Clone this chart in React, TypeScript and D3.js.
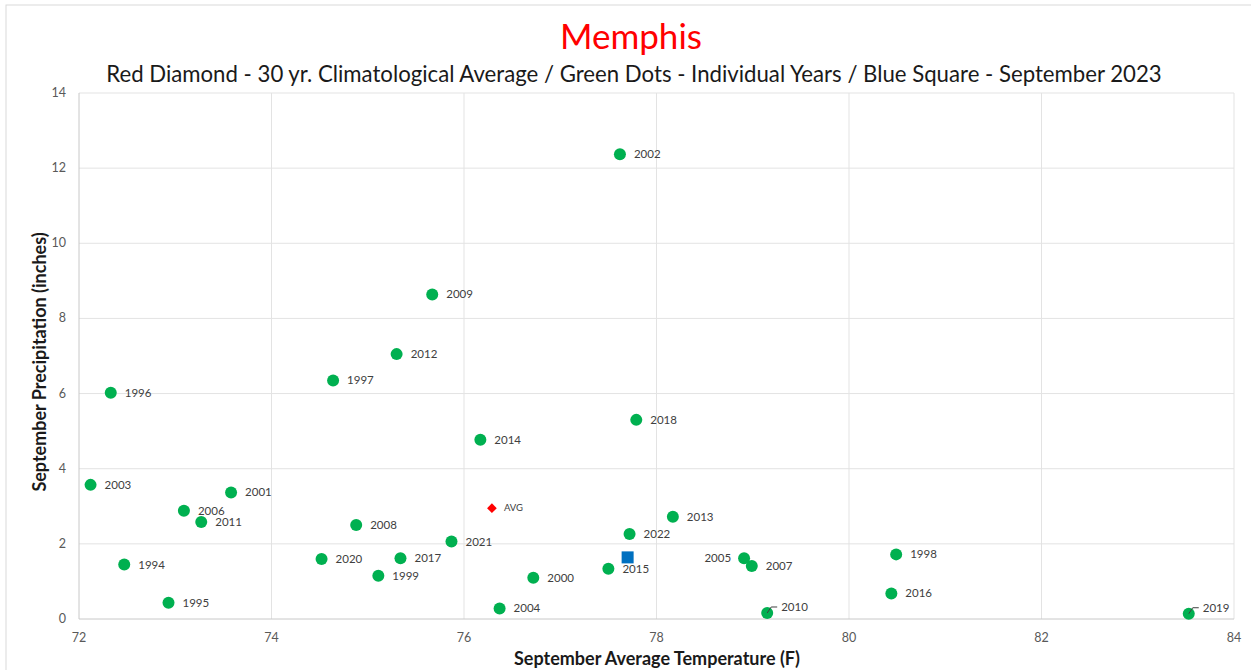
import React from "react";
import * as d3 from "d3";

// September temperature (F) vs precipitation (in) for Memphis
const years = [
	1994, 1995, 1996, 1997, 1998, 1999, 2000, 2001, 2002, 2003,
	2004, 2005, 2006, 2007, 2008, 2009, 2010, 2011, 2012, 2013,
	2014, 2015, 2016, 2017, 2018, 2019, 2020, 2021, 2022,
];
const temps = [
	72.47, 72.93, 72.33, 74.64, 80.49, 75.11, 76.72, 73.58, 77.62, 72.12,
	76.37, 78.91, 73.09, 78.99, 74.88, 75.67, 79.15, 73.27, 75.3, 78.17,
	76.17, 77.5, 80.44, 75.34, 77.79, 83.53, 74.52, 75.87, 77.72,
];
const precip = [
	1.45, 0.43, 6.02, 6.35, 1.72, 1.15, 1.1, 3.37, 12.37, 3.57,
	0.28, 1.62, 2.88, 1.41, 2.5, 8.64, 0.16, 2.58, 7.05, 2.72,
	4.77, 1.34, 0.68, 1.62, 5.3, 0.14, 1.6, 2.06, 2.26,
];
const avgPoint = { temp: 76.29, precip: 2.95 };
const sept2023 = { temp: 77.7, precip: 1.64 };
const xTicks = [72, 74, 76, 78, 80, 82, 84];
const yTicks = [0, 2, 4, 6, 8, 10, 12, 14];

// label placement tweaks
const leftLabels = [2005];
const leaderLabels = [2010, 2019];

const W = 1251;
const H = 670;
const margin = { left: 79, right: 1234, top: 93, bottom: 619 };
const font = "Lato, 'Open Sans', sans-serif";

export default function App() {
	const x = d3.scaleLinear().domain([72, 84]).range([margin.left, margin.right]);
	const y = d3.scaleLinear().domain([0, 14]).range([margin.bottom, margin.top]);
	const diamond = d3.symbol().type(d3.symbolDiamond2).size(60)();

	return (
		<svg
			width={W}
			height={H}
			style={{ position: "absolute", left: 0, top: 0, background: "#fff" }}
			fontFamily={font}>
			<rect x={6} y={5} width={W} height={H} fill="#fff" stroke="#d9d9d9" />
			<text x={631} y={49} textAnchor="middle" fontSize={35} fill="#ff0000">
				Memphis
			</text>
			<text x={634} y={82} textAnchor="middle" fontSize={22.2} fill="#1a1a1a">
				Red Diamond - 30 yr. Climatological Average / Green Dots - Individual Years / Blue Square - September 2023
			</text>

			{xTicks.slice(1).map(t => (
				<line key={"gx" + t} x1={x(t)} x2={x(t)} y1={margin.top} y2={margin.bottom} stroke="#e3e3e3" />
			))}
			{yTicks.slice(1).map(t => (
				<line key={"gy" + t} x1={margin.left} x2={margin.right} y1={y(t)} y2={y(t)} stroke="#e3e3e3" />
			))}
			<line x1={margin.left} x2={margin.left} y1={margin.top} y2={margin.bottom} stroke="#c8c8c8" />
			<line x1={margin.left} x2={margin.right} y1={margin.bottom} y2={margin.bottom} stroke="#c8c8c8" />

			{yTicks.map(t => (
				<text key={"ty" + t} x={66} y={y(t) + 4} textAnchor="end" fontSize={12.5} fill="#595959">
					{t}
				</text>
			))}
			{xTicks.map(t => (
				<text key={"tx" + t} x={x(t)} y={642} textAnchor="middle" fontSize={12.5} fill="#595959">
					{t}
				</text>
			))}

			<text x={657} y={665} textAnchor="middle" fontSize={18} fontWeight="bold" fill="#1a1a1a">
				September Average Temperature (F)
			</text>
			<text
				transform="translate(46,362) rotate(-90)"
				textAnchor="middle"
				fontSize={18}
				fontWeight="bold"
				fill="#1a1a1a">
				September Precipitation (inches)
			</text>

			{years.map((yr, i) => {
				const cx = x(temps[i]);
				const cy = y(precip[i]);
				const isLeft = leftLabels.includes(yr);
				const isLeader = leaderLabels.includes(yr);
				return (
					<g key={yr}>
						<circle cx={cx} cy={cy} r={6} fill="#00b050" />
						{isLeader && (
							<path d={`M${cx},${cy}L${cx + 4},${cy - 6}L${cx + 10},${cy - 6}`} stroke="#404040" fill="none" />
						)}
						<text
							x={isLeft ? cx - 13 : cx + 14}
							y={isLeader ? cy - 2 : cy + 4}
							textAnchor={isLeft ? "end" : "start"}
							fontSize={11.5}
							fill="#404040">
							{yr}
						</text>
					</g>
				);
			})}

			<path d={diamond} transform={`translate(${x(avgPoint.temp)},${y(avgPoint.precip)})`} fill="#ff0000" />
			<text x={x(avgPoint.temp) + 12} y={y(avgPoint.precip) + 3} fontSize={9.5} fill="#404040">
				AVG
			</text>
			<rect
				x={x(sept2023.temp) - 6}
				y={y(sept2023.precip) - 6}
				width={12}
				height={12}
				fill="#0070c0"
			/>
		</svg>
	);
}
